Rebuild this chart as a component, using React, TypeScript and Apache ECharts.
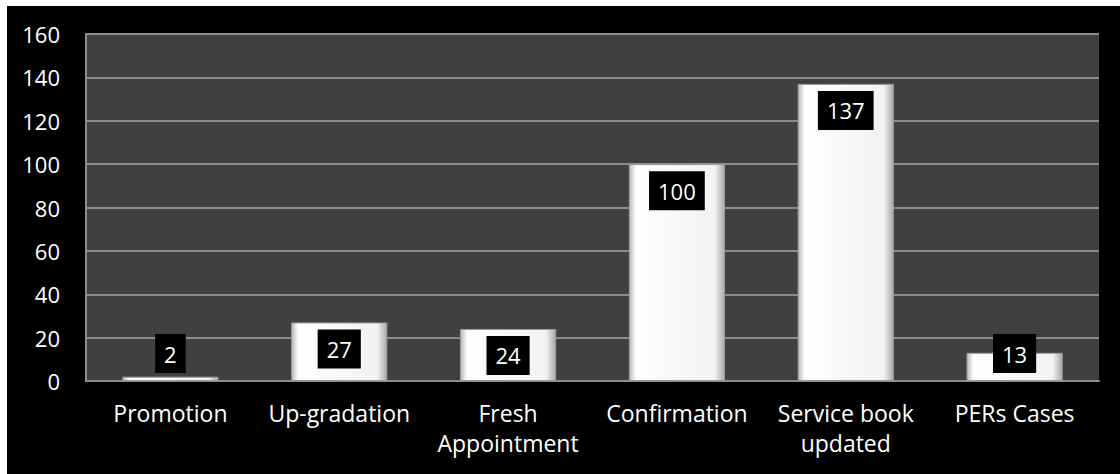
import React, { useEffect, useRef } from "react";
import * as echarts from "echarts";

const categories = ["Promotion", "Up-gradation", "Fresh\nAppointment", "Confirmation", "Service book\nupdated", "PERs Cases"];
const values = [2, 27, 24, 100, 137, 13];
const yTicks = { min: 0, max: 160, interval: 20 };

const FONT = "'Open Sans', 'Noto Sans', sans-serif";

export default function App() {
  const ref = useRef<HTMLDivElement>(null);
  useEffect(() => {
    if (!ref.current) return;
    const chart = echarts.init(ref.current, undefined, { renderer: "svg" });
    const barGradient = new echarts.graphic.LinearGradient(0, 0, 1, 0, [
      { offset: 0, color: "#b8b8b8" },
      { offset: 0.07, color: "#ffffff" },
      { offset: 0.9, color: "#f2f2f2" },
      { offset: 1, color: "#a8a8a8" },
    ]);
    chart.setOption({
      animation: false,
      backgroundColor: "#000000",
      grid: {
        left: 79,
        top: 28,
        right: 21,
        bottom: 93,
        show: true,
        backgroundColor: "#404040",
        borderWidth: 0,
      },
      xAxis: {
        type: "category",
        data: categories,
        axisLine: { show: true, lineStyle: { color: "#8c8c8c", width: 2 } },
        axisTick: { show: false },
        axisLabel: {
          color: "#ffffff",
          fontFamily: FONT,
          fontSize: 23,
          lineHeight: 30,
          margin: 17,
          interval: 0,
        },
      },
      yAxis: {
        type: "value",
        min: yTicks.min,
        max: yTicks.max,
        interval: yTicks.interval,
        axisLine: { show: true, lineStyle: { color: "#8c8c8c", width: 2 } },
        axisTick: { show: false },
        splitLine: { show: true, lineStyle: { color: "#8c8c8c", width: 2 } },
        axisLabel: {
          color: "#ffffff",
          fontFamily: FONT,
          fontSize: 22,
          margin: 26,
        },
      },
      series: [
        {
          type: "bar",
          barWidth: "57%",
          data: values.map((v) => ({
            value: v,
            label: v < 22 ? { position: "insideBottom", distance: 8 } : { position: "insideTop", distance: 7 },
          })),
          itemStyle: {
            color: barGradient,
            borderColor: "#9a9a9a",
            borderWidth: 1,
          },
          label: {
            show: true,
            color: "#ffffff",
            backgroundColor: "#000000",
            fontFamily: FONT,
            fontSize: 22,
            lineHeight: 23,
            padding: [8, 9],
          },
        },
      ],
    });
    return () => chart.dispose();
  }, []);
  return (
    <div
      ref={ref}
      style={{ position: "absolute", left: 7, top: 6, width: 1113, height: 468 }}
    />
  );
}
